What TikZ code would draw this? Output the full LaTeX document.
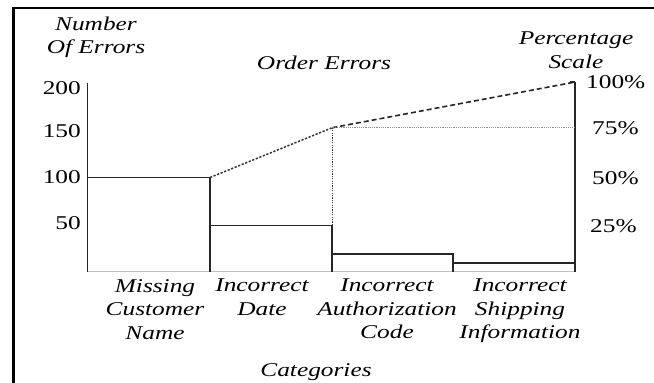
\documentclass[tikz,border=0pt]{standalone}
\usepackage{fontspec}
\setmainfont[FakeStretch=1.3]{Liberation Serif}
\begin{document}
\begin{tikzpicture}[x=1pt,y=-1pt,
  lbl/.style={inner sep=0pt,font=\fontsize{19.5}{23.5}\selectfont\itshape,align=center},
  num/.style={inner sep=0pt,font=\fontsize{19.5}{23.5}\selectfont},
  bar/.style={line width=1.8pt,black!85},
  axisline/.style={line width=1.8pt,black!85},
  frame/.style={line width=2.4pt,black}]
\useasboundingbox (0,0) rectangle (654,383);
% frame (top and left only)
\draw[frame] (13.5,383) -- (13.5,8) -- (654,8);
% coordinates
\coordinate (o) at (87.5,271.7);
\coordinate (ltop) at (87.5,83);
\coordinate (r) at (575.3,271.7);
\coordinate (rtop) at (575.3,82);
\coordinate (b1) at (87.5,177.5);
\coordinate (b1r) at (210,177.5);
\coordinate (b1b) at (210,271.7);
\coordinate (b2r) at (332.3,225.5);
\coordinate (b2b) at (332.3,271.7);
\coordinate (b2l) at (210,225.5);
\coordinate (b3l) at (332.3,253.7);
\coordinate (b3r) at (453.3,253.7);
\coordinate (b3b) at (453.3,271.7);
\coordinate (b4l) at (453.3,263.3);
\coordinate (b4r) at (575.3,263.3);
\coordinate (c75) at (332.3,127.7);
\coordinate (r75) at (575.3,127.7);
% baseline
\draw[black!25,line width=0.8pt] (o) -- (r);
% axes
\draw[axisline] (ltop) -- (o);
\draw[axisline] (rtop) -- (r);
\draw[axisline] (rtop) -- ++(-5,0);
% bars
\draw[bar] (b1) -- (b1r) -- (b1b);
\draw[bar] (b2l) -- (b2r) -- (b2b);
\draw[bar] (b3l) -- (b3r) -- (b3b);
\draw[bar] (b4l) -- (b4r);
% cumulative line
\draw[line width=1.5pt,black!80,dash pattern=on 2.2pt off 1.6pt] (b1r) -- (c75);
\draw[line width=1.6pt,black!85,dash pattern=on 5pt off 3pt] (c75) -- (rtop);
\draw[line width=1.2pt,black!80,dash pattern=on 1.2pt off 1.2pt] (c75) -- (b2r);
\draw[line width=1pt,black!45,dash pattern=on 1.2pt off 1pt] (c75) -- (r75);
% left scale
\node[num,anchor=east] (n200) at (81,88) {200};
\node[num,anchor=east] (n150) at (81,131) {150};
\node[num,anchor=east] (n100) at (81,177) {100};
\node[num,anchor=east] (n50) at (81,223.5) {50};
% right scale
\node[num,anchor=west] (p100) at (586,82) {100\%};
\node[num,anchor=west] (p75) at (592,128) {75\%};
\node[num,anchor=west] (p50) at (592,178) {50\%};
\node[num,anchor=west] (p25) at (590,226) {25\%};
% titles
\node[lbl] (ylab) at (96,37.5) {Number\\Of Errors};
\node[lbl] (title) at (324,63) {Order Errors};
\node[lbl] (plab) at (576,50) {Percentage\\Scale};
\node[lbl] (xlab) at (316,372) {Categories};
% categories
\node[lbl,anchor=north] (cat1) at (155,279) {Missing\\Customer\\Name};
\node[lbl,anchor=north] (cat2) at (262,279) {Incorrect\\Date};
\node[lbl,anchor=north] (cat3) at (387,279) {Incorrect\\Authorization\\Code};
\node[lbl,anchor=north] (cat4) at (520,279) {Incorrect\\Shipping\\Information};
\end{tikzpicture}
\end{document}
